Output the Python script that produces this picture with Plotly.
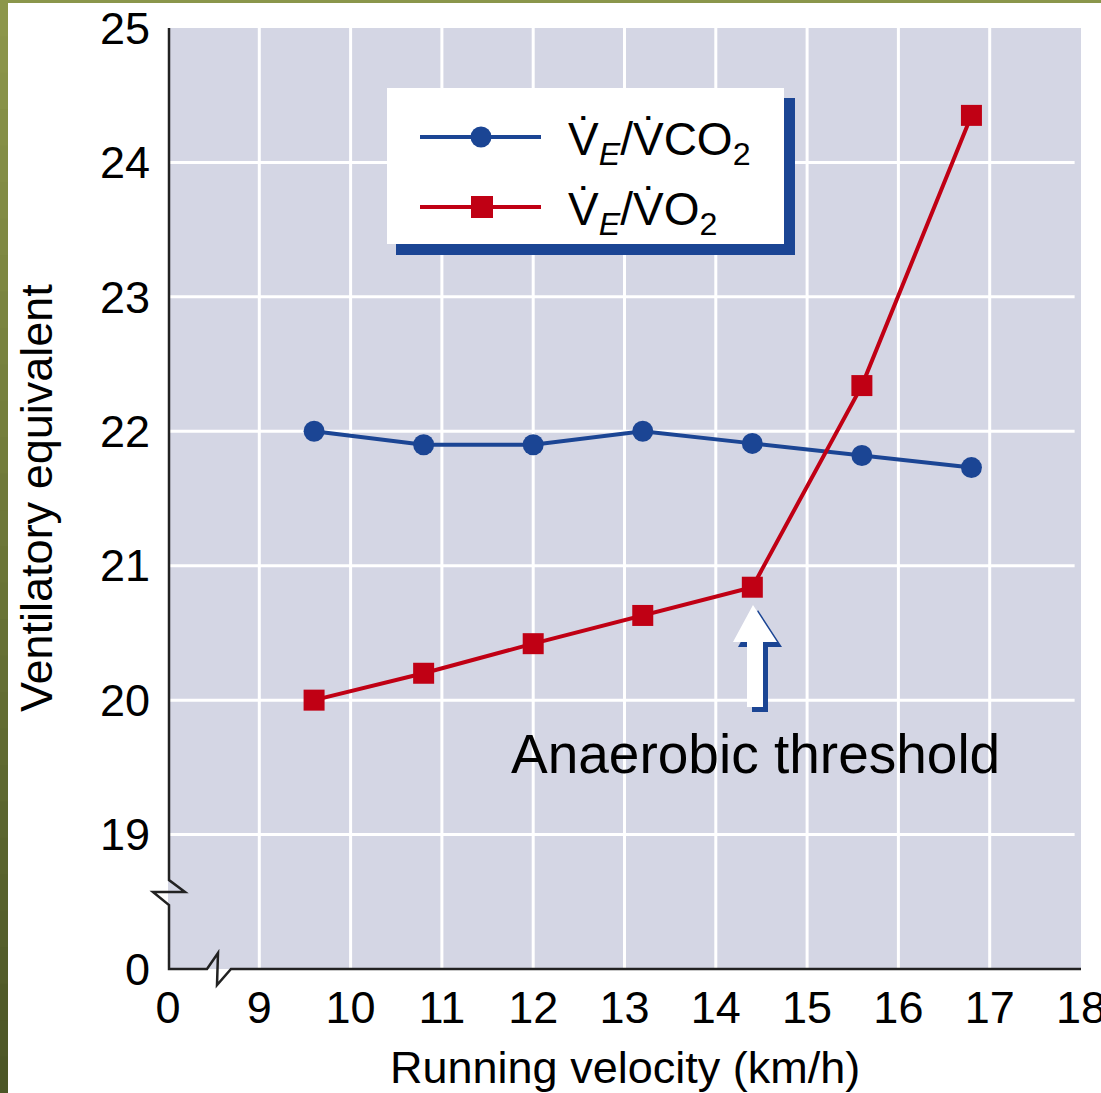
import plotly.graph_objects as go

# ---------------- data ----------------
velocity = [9.6, 10.8, 12.0, 13.2, 14.4, 15.6, 16.8]
ve_vco2 = [22.0, 21.9, 21.9, 22.0, 21.91, 21.82, 21.73]
ve_vo2 = [20.0, 20.2, 20.42, 20.63, 20.84, 22.34, 24.35]

x_tickvals = [8, 9, 10, 11, 12, 13, 14, 15, 16, 17, 18]
x_ticktext = ["0", "9", "10", "11", "12", "13", "14", "15", "16", "17", "18"]
y_tickvals = [18, 19, 20, 21, 22, 23, 24, 25]
y_ticktext = ["0", "19", "20", "21", "22", "23", "24", "25"]

BLUE = "#1b4594"
RED = "#c00014"
BG = "#d4d6e4"
FONT = "Liberation Sans, Arial, Helvetica, sans-serif"

W, H = 1101, 1093
L, R, T, B = 168, 20, 28, 124
PW, PH = W - L - R, H - T - B


def fx(px):
    return (px - L) / PW


def fy(py):
    return (H - B - py) / PH


fig = go.Figure()

fig.add_trace(go.Scatter(
    x=velocity, y=ve_vco2, mode="lines+markers", name="VE/VCO2",
    line=dict(color=BLUE, width=4),
    marker=dict(symbol="circle", size=21, color=BLUE),
    cliponaxis=False, showlegend=False,
))
fig.add_trace(go.Scatter(
    x=velocity, y=ve_vo2, mode="lines+markers", name="VE/VO2",
    line=dict(color=RED, width=4),
    marker=dict(symbol="square", size=21, color=RED),
    cliponaxis=False, showlegend=False,
))

shapes = []
# gridlines
for yv in y_tickvals[1:-1]:
    shapes.append(dict(type="line", xref="x", yref="y", x0=8, x1=17.93, y0=yv, y1=yv,
                       line=dict(color="white", width=3), layer="below"))
for xv in x_tickvals[1:-1]:
    shapes.append(dict(type="line", xref="x", yref="y", x0=xv, x1=xv, y0=18, y1=25,
                       line=dict(color="white", width=3), layer="below"))

# axis lines with breaks (pixel positions)
axis_pts = [(169, 28), (169, 880), (185, 892), (153, 892), (169, 905), (169, 969),
            (207, 969), (218, 953), (217, 985), (231, 969), (1081, 969)]
path = "M " + " L ".join(f"{fx(a):.5f},{fy(b):.5f}" for a, b in axis_pts)
shapes.append(dict(type="path", xref="paper", yref="paper", path=path,
                   line=dict(color="#222222", width=2.5), layer="above"))

# legend box with shadow
shapes.append(dict(type="rect", xref="paper", yref="paper",
                   x0=fx(396), x1=fx(795), y0=fy(255), y1=fy(98),
                   fillcolor=BLUE, line=dict(width=0), layer="above"))
shapes.append(dict(type="rect", xref="paper", yref="paper",
                   x0=fx(387), x1=fx(784), y0=fy(244), y1=fy(88),
                   fillcolor="white", line=dict(width=0), layer="above"))
# legend symbols
shapes.append(dict(type="line", xref="paper", yref="paper",
                   x0=fx(420), x1=fx(541), y0=fy(137), y1=fy(137),
                   line=dict(color=BLUE, width=4), layer="above"))
shapes.append(dict(type="circle", xref="paper", yref="paper",
                   x0=fx(470.5), x1=fx(491.5), y0=fy(147.5), y1=fy(126.5),
                   fillcolor=BLUE, line=dict(width=0), layer="above"))
shapes.append(dict(type="line", xref="paper", yref="paper",
                   x0=fx(420), x1=fx(541), y0=fy(207), y1=fy(207),
                   line=dict(color=RED, width=4), layer="above"))
shapes.append(dict(type="rect", xref="paper", yref="paper",
                   x0=fx(471), x1=fx(493), y0=fy(218), y1=fy(196),
                   fillcolor=RED, line=dict(width=0), layer="above"))


def poly(pts):
    return "M " + " L ".join(f"{fx(a):.5f},{fy(b):.5f}" for a, b in pts) + " Z"


arrow = [(753, 605), (777, 642), (763, 642), (763, 707), (747, 707), (747, 642), (733, 642)]
shadow = [(a + 5, b + 5) for a, b in arrow]
shapes.append(dict(type="path", xref="paper", yref="paper", path=poly(shadow),
                   fillcolor=BLUE, line=dict(width=0), layer="above"))
shapes.append(dict(type="path", xref="paper", yref="paper", path=poly(arrow),
                   fillcolor="white", line=dict(width=0), layer="above"))

# olive frame strips
shapes.append(dict(type="rect", xref="paper", yref="paper",
                   x0=fx(0), x1=fx(W), y0=fy(3), y1=fy(0),
                   fillcolor="#8a964b", line=dict(width=0), layer="above"))
n = 30
c0 = (140, 150, 74)
c1 = (76, 86, 38)
for i in range(n):
    t = i / (n - 1)
    c = tuple(int(round(c0[k] + (c1[k] - c0[k]) * t)) for k in range(3))
    shapes.append(dict(type="rect", xref="paper", yref="paper",
                       x0=fx(0), x1=fx(8), y0=fy(H * (i + 1) / n + 2), y1=fy(H * i / n),
                       fillcolor=f"rgb{c}", line=dict(width=0), layer="above"))

annotations = [
    dict(text="V\u0307<sub><i>E</i></sub>/V\u0307CO<sub>2</sub>", xref="paper", yref="paper",
         x=fx(566), y=fy(143), xanchor="left", yanchor="middle", showarrow=False,
         font=dict(size=46, color="black", family=FONT)),
    dict(text="V\u0307<sub><i>E</i></sub>/V\u0307O<sub>2</sub>", xref="paper", yref="paper",
         x=fx(566), y=fy(213), xanchor="left", yanchor="middle", showarrow=False,
         font=dict(size=46, color="black", family=FONT)),
    dict(text="Anaerobic threshold", xref="paper", yref="paper",
         x=fx(509), y=fy(754), xanchor="left", yanchor="middle", showarrow=False,
         font=dict(size=55, color="black", family=FONT)),
    dict(text="Running velocity (km/h)", xref="paper", yref="paper",
         x=fx(625), y=fy(1067), xanchor="center", yanchor="middle", showarrow=False,
         font=dict(size=45, color="black", family=FONT)),
    dict(text="Ventilatory equivalent", xref="paper", yref="paper", textangle=-90,
         x=fx(36), y=fy(498), xanchor="center", yanchor="middle", showarrow=False,
         font=dict(size=45, color="black", family=FONT)),
]

fig.update_layout(
    width=W, height=H,
    margin=dict(l=L, r=R, t=T, b=B, pad=0, autoexpand=False),
    paper_bgcolor="white", plot_bgcolor=BG,
    shapes=shapes, annotations=annotations,
    font=dict(family=FONT, color="black"),
    xaxis=dict(range=[8, 18], tickvals=x_tickvals, ticktext=x_ticktext,
               showgrid=False, zeroline=False, showline=False, ticks="",
               tickfont=dict(size=45, color="black", family=FONT),
               ticklabelstandoff=8, ticklabeloverflow="allow", automargin=False),
    yaxis=dict(range=[18, 25], tickvals=y_tickvals, ticktext=y_ticktext,
               showgrid=False, zeroline=False, showline=False, ticks="",
               tickfont=dict(size=45, color="black", family=FONT),
               ticklabelstandoff=17, ticklabeloverflow="allow", automargin=False),
)

fig.write_html(
    "out.html",
    config={"displayModeBar": False},
    post_script="document.body.style.margin='0';document.body.style.overflow='hidden';"
                "document.documentElement.style.overflow='hidden';",
)
